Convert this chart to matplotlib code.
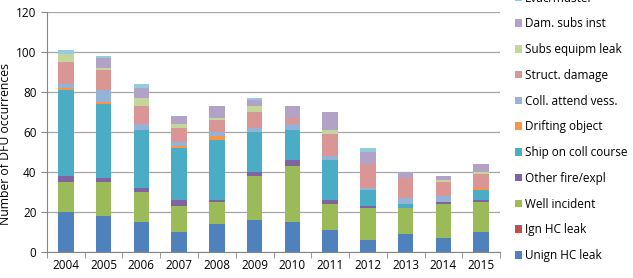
import numpy as np
import matplotlib
matplotlib.use('Agg')
import matplotlib.pyplot as plt

plt.rcParams['font.family'] = ['Open Sans', 'DejaVu Sans']

years = ['2004', '2005', '2006', '2007', '2008', '2009', '2010', '2011', '2012', '2013', '2014', '2015']

# DFU counts per category (stacked bottom -> top)
unign_hc = [20, 18, 15, 10, 14, 16, 15, 11, 6, 9, 7, 10]
ign_hc = [0, 0, 0, 0, 0, 0, 0, 0, 0, 0, 0, 0]
well_inc = [15, 17, 15, 13, 11, 22, 28, 13, 16, 13, 17, 15]
other_fire = [3, 2, 2, 3, 1, 2, 3, 2, 1, 0, 1, 1]
ship_coll = [43, 37, 29, 26, 30, 20, 15, 20, 8, 2, 0, 5]
drifting = [1, 1, 0, 1, 2, 0, 0, 0, 0, 0, 0, 1]
coll_attend = [2, 6, 3, 2, 2, 2, 3, 2, 1, 3, 3, 0]
struct_dmg = [11, 10, 9, 7, 6, 8, 3, 11, 12, 10, 7, 7]
subs_leak = [4, 1, 4, 2, 1, 3, 0, 2, 0, 0, 1, 1]
dam_subs = [0, 5, 5, 4, 6, 3, 6, 9, 6, 3, 2, 4]
evac = [2, 1, 2, 0, 0, 1, 0, 0, 2, 0, 0, 0]

series = [
    ('Unign HC leak', unign_hc, '#4F81BD'),
    ('Ign HC leak', ign_hc, '#C0504D'),
    ('Well incident', well_inc, '#9BBB59'),
    ('Other fire/expl', other_fire, '#8064A2'),
    ('Ship on coll course', ship_coll, '#4BACC6'),
    ('Drifting object', drifting, '#F79646'),
    ('Coll. attend vess.', coll_attend, '#95B3D7'),
    ('Struct. damage', struct_dmg, '#D99694'),
    ('Subs equipm leak', subs_leak, '#C3D69B'),
    ('Dam. subs inst', dam_subs, '#B2A2C7'),
    ('Evac/muster', evac, '#93CDDD'),
]

fig = plt.figure(figsize=(6.33, 2.78), dpi=100)
ax = fig.add_axes([0.0742, 0.0925, 0.7158, 0.8633])

x = np.arange(len(years))
bottom = np.zeros(len(years))
handles = []
for name, vals, col in series:
    b = ax.bar(x, vals, width=0.41, bottom=bottom, color=col, label=name, zorder=3)
    handles.append(b)
    bottom += np.array(vals)

ax.set_xlim(-0.5, len(years) - 0.5)
ax.set_ylim(0, 120)
ax.set_yticks(range(0, 121, 20))
ax.yaxis.grid(True, color='#A6A6A6', linewidth=0.9, zorder=0)
ax.set_xticks(x)
ax.set_xticklabels(years, fontsize=8.5)
ax.tick_params(axis='x', length=0, pad=5)
ax.tick_params(axis='y', labelsize=8.5, length=4, color='#868686', direction='out')
# tick marks between categories
ax.set_xticks(np.arange(-0.5, len(years), 1), minor=True)
ax.tick_params(axis='x', which='minor', length=4, color='#868686', direction='out')
for s in ['top', 'right']:
    ax.spines[s].set_visible(False)
ax.spines['left'].set_color('#868686')
ax.spines['bottom'].set_color('#868686')
ax.set_ylabel('Number of DFU occurrences', fontsize=8.8)
ax.yaxis.set_label_coords(-0.078, 0.45)

fig.legend(handles[::-1], [s[0] for s in series][::-1],
           loc='lower left', bbox_to_anchor=(0.813, 0.057),
           frameon=False, fontsize=8.5, borderpad=0, borderaxespad=0,
           handlelength=0.6, handleheight=0.6, handletextpad=0.3,
           labelspacing=1.08)

fig.savefig('out.png', dpi=100)
